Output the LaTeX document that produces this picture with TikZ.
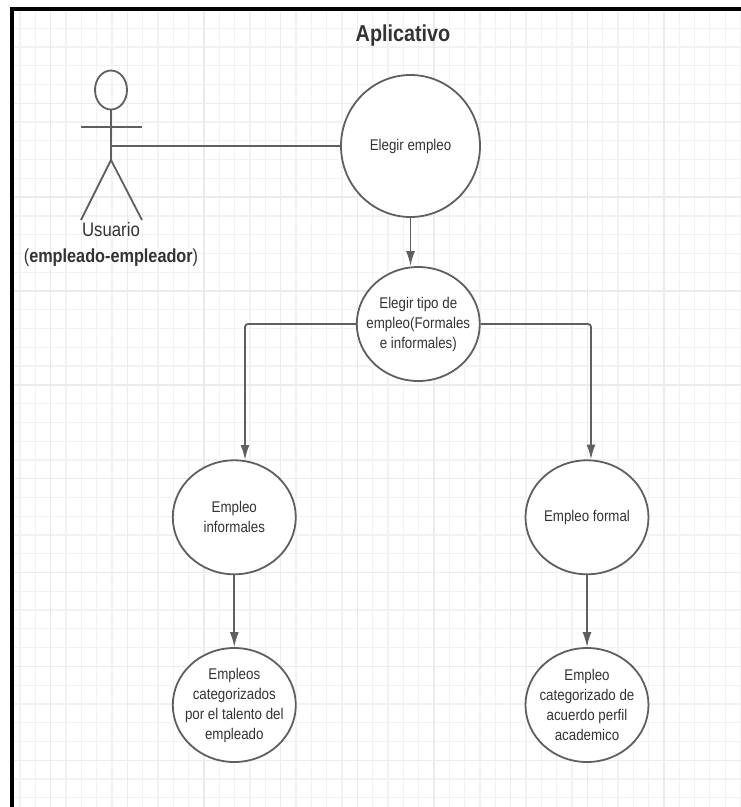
\documentclass[tikz,border=0pt]{standalone}
\usepackage{fontspec}
\setmainfont[FakeStretch=0.86]{Liberation Sans}
\usetikzlibrary{positioning,arrows.meta,shapes.geometric}
\definecolor{linea}{HTML}{5F5F5F}
\definecolor{texto}{HTML}{333333}
\tikzset{
    rejilla/.style={draw=black!5,line width=1.2pt},
    rejillamayor/.style={draw=black!8,line width=1.5pt},
    marco/.style={draw=black,line width=4.6pt},
    caso/.style={ellipse,draw=linea,fill=white,line width=1.8pt,inner sep=-25pt,align=center,text=texto,
        font=\fontsize{15.5}{20}\selectfont,minimum width=123pt,minimum height=114pt},
    actor/.style={draw=linea,line width=1.8pt},
    linkline/.style={draw=linea,line width=1.8pt},
    flecha/.style={linkline,-{Latex[length=15pt,width=9pt]}},
    etiqueta/.style={text=texto,inner sep=0pt,font=\fontsize{19.5}{22}\selectfont},
}
\begin{document}
\begin{tikzpicture}[x=1pt,y=-1pt]
        \useasboundingbox (0,0) rectangle (741,807);
        \foreach \i in {1,...,48}
            \draw[rejilla] ({4.7+15.33*\i},11) -- ({4.7+15.33*\i},807);
        \foreach \i in {1,...,42}
            \draw[rejilla] (14,{9.45+18.77*\i}) -- (741,{9.45+18.77*\i});
        \foreach \i in {0,...,8}
            \draw[rejillamayor] ({50.7+76.67*\i},11) -- ({50.7+76.67*\i},807);
        \foreach \i in {0,...,7}
            \draw[rejillamayor] (14,{103.3+93.85*\i}) -- (741,{103.3+93.85*\i});
        \draw[marco] (741,9) -| (12,807);

        \node[text=texto,font=\fontsize{23}{24}\selectfont\bfseries] (titulo) at (403,36) {Aplicativo};

        \node[caso,minimum width=139pt,minimum height=142pt] (elegir) at (410.5,146) {Elegir empleo};
        \node[caso] (tipo) at (418.3,324) {Elegir tipo de\\empleo(Formales\\e informales)};
        \node[caso] (informal) at (234.3,517.3) {Empleo\\informales};
        \node[caso] (formal) at (587,517.3) {Empleo formal};
        \node[caso] (talento) at (234.3,705) {Empleos\\categorizados\\por el talento del\\empleado};
        \node[caso] (perfil) at (587,705) {Empleo\\categorizado de\\acuerdo perfil\\academico};

        \node[ellipse,actor,inner sep=0pt,minimum width=32pt,minimum height=39pt] (cabeza) at (111,90) {};
        \coordinate (cadera) at (111,160);
        \coordinate (pecho) at (111,146);
        \coordinate (brazoizq) at (81,127);
        \coordinate (brazoder) at (142,127);
        \coordinate (pieizq) at (81,220);
        \coordinate (pieder) at (142,220);
        \draw[actor] (cabeza.south) -- (cadera);
        \draw[actor] (brazoizq) -- (brazoder);
        \draw[actor] (pieizq) -- (cadera) -- (pieder);
        \node[etiqueta] (usuario) at (111,230) {Usuario};
        \node[etiqueta,font=\fontsize{18.9}{22}\selectfont,below=11pt of usuario.south] (rol) {(\textbf{empleado-empleador})};

        \coordinate (entradaizq) at (245,460);
        \coordinate (entradader) at (591,459.5);
        \draw[linkline] (pecho) -- (elegir.west);
        \draw[flecha] (elegir.south) -- (elegir.south |- tipo.north);
        \draw[flecha,rounded corners=3pt] (tipo.west) -| (entradaizq);
        \draw[flecha,rounded corners=3pt] (tipo.east) -| (entradader);
        \draw[flecha] (informal) -- (talento);
        \draw[flecha] (formal) -- (perfil);
    \end{tikzpicture}
\end{document}
